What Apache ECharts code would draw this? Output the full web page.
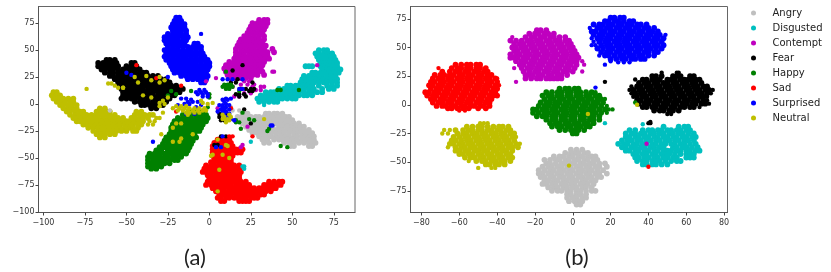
<!DOCTYPE html>
<html><head><meta charset="utf-8">
<style>html,body{margin:0;padding:0;background:#fff}#c{width:831px;height:272px}canvas{filter:blur(.45px)}</style>
<script src="https://cdn.jsdelivr.net/npm/echarts@6/dist/echarts.min.js"></script>
</head><body><div id="c"></div>
<script>
// every row is [y, x, x, x, ...]
const categories=['Angry','Disgusted','Contempt','Fear','Happy','Sad','Surprised','Neutral'];
const xTicksA=[-100,-75,-50,-25,0,25,50,75];
const yTicksA=[-100,-75,-50,-25,0,25,50,75];
const xTicksB=[-80,-60,-40,-20,0,20,40,60,80];
const yTicksB=[-75,-50,-25,0,25,50,75];

const aAngry=[
[-9,20,23,34,36,39,41,44],
[-12,17,20,22,25,28,30,33,35,38,41,43,46,48],
[-15,19,21,24,27,29,32,34,37,39,42,45,47,50],
[-18,20,23,25,28,31,33,36,38,40,43,46,48,51,54],
[-21,22,24,27,29,32,34,38,42,44,47,50,52,55,57],
[-24,24,27,30,33,36,39,41,44,47,49,52,55,57,60],
[-27,26,29,32,35,37,40,43,45,48,51,53,56,59,62],
[-30,30,33,35,37,40,43,46,48,51,53,56,58,61,63],
[-33,32,35,39,42,44,47,50,53,56,59,61,63],
[-36,33,36,45,48,51,54,57,60,62,64],
[-39,49,51,60,62]];
const aDisgusted=[
[50,66,69,71],
[47,64,66,69,72,74],
[44,65,67,70,73,75],
[41,66,68,71,73,76],
[38,67,70,72,75,77],
[35,58,60,62,67,69,72,74,77],
[32,68,71,73,76,79],
[29,62,64,67,70,72,75,78],
[26,57,60,62,65,68,71,73,76],
[23,56,59,62,64,67,69,72,75,77],
[20,55,58,60,63,66,69,71,74,77],
[17,47,49,52,54,57,59,62,66,71,74,77],
[14,42,45,47,50,52,55,57,60,63,68,72,75],
[11,34,37,39,41,44,47,49,52,54,57,60,62,65,68],
[8,31,34,36,39,41,44,46,49,52,54,57,59,62],
[5,29,32,34,37,39,42,44,47,50,52],
[2,30,33,36,39,41]];
const aContempt=[
[78,30,33,35],
[75,26,29,32,35],
[72,25,28,31,34],
[69,24,27,30,33],
[66,23,26,29,32],
[63,21,24,27,30,33],
[60,19,22,25,28,30,33],
[57,18,21,24,27,29,32],
[54,17,20,23,26,28,31,34],
[51,16,19,22,25,27,30,33,38],
[48,16,19,21,24,27,29,32,35,39],
[45,16,18,21,24,26,29,32,35],
[42,15,17,20,23,26,28,31,34,36],
[39,12,15,18,20,23,26,29,31,33],
[36,10,13,16,19,21,24,27,29,32],
[33,9,12,15,17,20,23,26,28,31],
[30,10,13,15,18,21,24,26,29,32],
[27,11,14,17,20,23,26,29,33],
[24,13,16,19,22,25]];
const aFear=[
[41,-62,-60,-57],
[38,-67,-64,-62,-59,-56,-47,-45],
[35,-67,-65,-62,-60,-57,-55,-50,-47,-44],
[32,-65,-63,-60,-58,-55,-52,-50,-47,-45,-42],
[29,-63,-60,-58,-55,-53,-50,-48,-45,-42,-40,-38],
[26,-60,-58,-55,-52,-50,-47,-45,-42,-40,-37,-34,-31],
[23,-57,-54,-52,-49,-46,-44,-41,-39,-36,-34,-31,-29,-26],
[20,-55,-52,-50,-47,-44,-42,-39,-37,-34,-31,-29,-26,-24],
[17,-54,-52,-49,-47,-44,-41,-39,-36,-33,-31,-28,-26,-23,-20],
[14,-53,-50,-48,-45,-42,-40,-37,-35,-32,-29,-27,-24,-22,-19,-16],
[11,-52,-50,-47,-44,-42,-39,-37,-34,-31,-29,-26,-23,-20,-18],
[8,-52,-49,-47,-44,-41,-39,-36,-34,-31,-28,-26,-23,-21],
[5,-53,-50,-47,-45,-42,-40,-37,-34,-32,-29,-26,-24],
[2,-45,-42,-39,-37,-34,-31,-29,-26],
[-1,-41,-39,-36,-33,-31,-28],
[-4,-35,-32]];
const aHappy=[
[-7,-12,-9,-6,-3],
[-10,-16,-13,-11,-8,-5,-2],
[-13,-19,-16,-14,-11,-8,-6,-3,-1],
[-16,-21,-18,-15,-13,-10,-7,-5,-2],
[-19,-22,-19,-17,-14,-12,-9,-6,-4],
[-22,-23,-20,-18,-15,-13,-10,-7,-5],
[-25,-23,-21,-18,-16,-13,-11,-8,-6],
[-28,-24,-21,-19,-16,-14,-11,-9],
[-31,-26,-23,-21,-18,-16,-13,-10,-8],
[-34,-27,-24,-22,-19,-17,-14,-12,-10],
[-37,-28,-25,-23,-20,-18,-15,-13,-11],
[-40,-30,-27,-24,-22,-19,-17,-14,-12],
[-43,-32,-29,-25,-23,-20,-18,-15,-13],
[-46,-36,-33,-30,-27,-24,-21,-19,-16,-14],
[-49,-37,-35,-32,-30,-27,-25,-22,-20,-17],
[-52,-37,-34,-32,-29,-27,-24,-21,-19],
[-55,-37,-35,-32,-30,-27,-24],
[-58,-37,-34,-32,-29],
[-60,-35,-32]];
const aSad=[
[-33,5,7,10,12],
[-36,3,5,8,10,13],
[-39,2,5,7,10,12,14],
[-42,2,4,7,9,12,14,16,18,20],
[-45,2,5,7,10,12,15,17,19],
[-48,2,4,7,9,12,14],
[-51,3,5,8,10,13],
[-54,1,3,6,8,11,13],
[-57,-2,1,3,6,8,11,13,15,18],
[-60,-3,-1,2,4,7,9,12,14,16,18],
[-63,-4,-2,1,3,6,8,11,14,16,19],
[-66,-1,1,4,6,9,11,14,16,18],
[-69,0,3,5,8,10,13,15,18],
[-72,-1,2,4,7,9,12,14,17,19,22,36,39,42,44],
[-75,-2,1,3,6,8,11,13,16,18,21,24,33,35,38,41,43],
[-78,2,4,7,9,12,15,17,20,22,25,27,30,32,35,38,40],
[-81,4,7,9,12,14,17,19,22,24,27,29,32,34,37],
[-84,6,8,11,13,16,18,21,23,26,28,31,33],
[-87,5,7,10,12,15,17,20,22,25,27,29],
[-90,7,9,18,20,22,24]];
const aSurprised=[
[80,-20,-18],
[77,-21,-19,-17],
[74,-22,-20,-17,-15],
[71,-23,-20,-18,-15],
[68,-22,-19,-17,-14],
[65,-25,-22,-20,-17,-14],
[62,-27,-24,-21,-19,-16,-13],
[59,-27,-24,-22,-19,-16,-14],
[56,-26,-23,-20,-18,-15,-9,-7],
[53,-25,-22,-19,-16,-13,-10,-7,-5],
[50,-27,-24,-21,-19,-16,-13,-11,-8,-5],
[47,-26,-23,-20,-17,-15,-12,-9,-7,-4],
[44,-27,-25,-22,-19,-16,-14,-11,-8,-5,-3],
[41,-26,-23,-20,-18,-15,-12,-10,-7,-4,-1],
[38,-24,-21,-19,-16,-13,-10,-8,-5,-2,0],
[35,-23,-20,-18,-15,-12,-9,-7,-4,-1,0],
[32,-22,-19,-16,-14,-11,-8,-5,-3,-1],
[29,-21,-18,-15,-13,-10,-7,-4,-2],
[26,-17,-14,-11,-9,-6,-3,-1],
[23,-13,-10,-7,-4,-2],
[20,-5,-3]];
const aNeutral=[
[11,-94,-92],
[8,-95,-92,-90],
[5,-94,-91,-88,-85,-82],
[2,-92,-89,-87,-84,-82],
[-1,-90,-88,-85,-83,-80],
[-4,-88,-85,-83,-80,-66,-63],
[-7,-86,-84,-81,-78,-76,-68,-65,-62,-60,-44,-41],
[-10,-84,-81,-79,-76,-74,-71,-68,-66,-63,-60,-57,-45,-42,-39,-36,-34],
[-13,-82,-80,-77,-75,-72,-69,-67,-64,-61,-58,-55,-52,-47,-45,-42,-40,-37],
[-16,-80,-78,-75,-73,-70,-67,-65,-62,-59,-56,-53,-50,-48,-45,-43,-40],
[-19,-76,-74,-71,-68,-65,-63,-60,-57,-54,-51,-49,-46,-43,-41],
[-22,-73,-70,-67,-65,-62,-59,-56,-54,-51,-48,-46,-43],
[-25,-70,-67,-65,-62,-59,-56,-53,-50,-46,-44],
[-28,-68,-65,-63,-60,-57],
[-31,-66,-63]];

// lone points of panel (a)
const aAngryLone=[[-3,13],[-6,14,18,-60]];
const aDisgustedLone=[[-1,33],[-35,25],[-58,20,21],[-60,21]];
const aContemptLone=[[30,38,39],[24,4],[21,21,24,-2],[18,19,23,27],[16,14,26,31,33],[13,28,31],[10,21,25],[7,15,18],[36,65],[-4,5],[-10,8],[-21,23],[-38,20],[-40,19]];
const aFearLone=[[36,20],[31,14],[23,17],[20,13,16,26],[14,19,22,25,27],[12,24,26],[9,16,18,21],[7,18,22],[-5,21],[-9,6,8,10],[-12,6,9,11],[-15,7,9],[-18,25],[-30,7,10],[-38,3,5]];
const aHappyLone=[[30,10],[18,9,11,13],[16,8,10,12,14],[14,10,12],[12,-11,-23,18],[9,0,-20],[8,-25],[6,0],[13,41,43,54],[-3,-1],[-8,20],[-15,16,27],[-17,16,18],[-14,24],[-23,19,36],[-25,35],[-39,43],[-40,47]];
const aSadLone=[[36,-44],[24,-32],[17,-17],[-7,-20],[-30,26,12,14],[-4,13]];
const aSurprisedLone=[[65,-5],[29,-50],[27,-47],[25,-25],[23,8,11,14,20],[14,18,20],[13,-6,-3],[11,-8,-5,-2],[9,-7,-4,-1],[7,-4,-1],[5,-17,-14,10,13],[4,-11,8,11],[2,-13,-10,-7,9],[0,-15,-12,10],[-1,-19,-5,6,8,12],[-3,-8,8,10],[-5,7,9,12],[-7,5,8,10],[-9,-14,-9,9,12],[-12,11],[-14,13],[-15,15],[-20,37,38],[-35,-34],[-40,4,7],[-30,8]];
const aNeutralLone=[[19,-61,-59],[17,-57],[15,-55,-52],[14,-74],[26,-38],[25,-45,-30],[22,-35,-27],[20,-43,-30],[15,-52],[8,-40],[6,-35,-25],[3,-28,-5],[1,-30,2,-4],[0,-27,-1],
[-2,-20,-17,-14,-30],[-4,-22,-18,-15,-12,-9,-6,-3],[-6,-19,-16,-13,-10,-7,-4,-2],[-8,-28,-14,-12,-9,-6],[-10,-13,12,8],[-13,-32,-30],[-16,-36,-33],[-19,-37,-34],
[-12,9,13],[-14,33,8,11],[-15,12,10],[-17,10],[-18,-20,-17],[-22,-22],[-28,-29],[-28,-10],[-32,-17],[-35,-22,-18],
[-33,5],[-38,10],[-39,11],[-47,2,8],[-48,1],[-50,12],[-61,6],[-81,5]];

const bAngry=[
[-39,-1,2,5],
[-42,-4,-1,1,3,6,8],
[-45,-10,-7,-5,-2,0,3,5,8,10,12],
[-48,-15,-12,-9,-7,-4,-2,1,3,6,8,11,13],
[-51,-14,-12,-9,-6,-4,-1,1,4,6,9,11,14,17],
[-54,-16,-13,-11,-8,-6,-3,-1,2,4,7,9,12,14,18],
[-57,-18,-15,-12,-10,-7,-5,-2,0,3,5,8,10,13,16],
[-60,-18,-16,-13,-11,-8,-6,-3,-1,2,4,7,9,12,14,18],
[-63,-17,-15,-12,-10,-7,-5,-2,0,3,5,8,10,13,15],
[-66,-15,-13,-10,-8,-5,-3,0,2,5,7,10,12],
[-69,-16,-14,-11,-9,-6,-4,-1,1,4,6,8,11],
[-72,-13,-10,-8,-5,-3,0,2,5,7,10],
[-75,-11,-8,-6,-3,-1,2,4,7,10,12],
[-78,-3,-1,2,4,7],
[-81,-3,0,2,5,7],
[-84,-2,1,3,5],
[-87,2,4]];
const bDisgusted=[
[-19,48,56,59,61],
[-22,30,33,37,40,42,45,47,50,52,55,57,60,62],
[-25,28,31,33,36,38,41,43,46,48,51,53,56,58,61,64],
[-28,28,30,33,35,38,40,43,45,48,50,53,55,58,60,63,65],
[-31,26,29,31,34,36,39,41,44,46,49,51,54,56,59,61,64],
[-34,24,27,29,32,34,37,39,42,44,47,49,52,54,57,59,62,65],
[-37,26,28,31,33,36,38,41,43,46,48,53,55,58,60,63,66],
[-40,28,30,33,35,38,40,43,45,48,50,52,55,57,60,62,65,67],
[-43,32,34,37,39,42,44,47,49,51,54,57,60,62,64],
[-46,33,35,38,40,43,45,48,50,53,55,60,62,64],
[-49,34,37,39,42,44,46,49,52,55,57],
[-52,37,39,42,44,47,50]];
const bContempt=[
[65,-19,-17,-14],
[62,-23,-20,-18,-15,-13,-10],
[59,-25,-22,-20,-17,-15,-12,-10,-7,-4],
[56,-33,-30,-27,-24,-22,-19,-17,-14,-12,-9,-7,-4,-2],
[53,-31,-28,-26,-23,-21,-18,-16,-13,-11,-8,-6,-3,-1],
[50,-32,-30,-27,-25,-22,-20,-17,-15,-12,-10,-7,-5,-2,0],
[47,-31,-29,-26,-24,-21,-19,-16,-14,-11,-9,-6,-4,-1,1],
[44,-33,-30,-28,-25,-23,-20,-18,-15,-13,-10,-8,-5,-3,0,2],
[41,-33,-31,-29,-26,-24,-21,-19,-16,-14,-11,-9,-6,-4,-1,1,3],
[38,-30,-27,-25,-22,-20,-17,-15,-12,-10,-7,-5,-2,0,2],
[35,-28,-26,-23,-21,-18,-16,-13,-11,-8,-6,-3,-1,2],
[32,-27,-24,-22,-19,-17,-14,-12,-9,-7,-4,-2,1],
[29,-26,-23,-20,-18,-15,-13,-10,-8,-5,-3,0],
[26,-25,-23,-21,-18,-16,-13,-11,-8,-6,-3],
[23,-25,-22,-19,-17,-14,-12,-10,-8,-6]];
const bFear=[
[25,42,44,47,53,55,57,62,64],
[22,37,39,42,44,46,50,52,54,57,59,61,63,65,67],
[19,35,38,40,43,45,48,50,53,55,58,60,63,65,68],
[16,34,36,39,41,44,46,49,51,54,56,59,61,64,66,69,71],
[13,32,35,37,40,42,45,47,50,52,55,57,60,62,65,67,70,72],
[10,33,36,38,41,43,46,48,51,53,56,58,61,63,66,68,71],
[7,34,37,39,42,44,47,49,52,54,57,59,62,64,67,69],
[4,34,36,39,41,44,46,49,51,54,56,59,61,64,66,69],
[1,35,38,40,43,45,48,50,53,55,58,60,63,65,68,70],
[-2,37,39,42,44,47,49,52,54,57,59,62,64],
[-5,43,46,48,51,53,56]];
const bHappy=[
[14,-7,-4,-2,1,3],
[11,-14,-11,-8,-6,-3,-1,2,4,7,10],
[8,-16,-13,-11,-8,-6,-3,-1,2,4,7,9,12,14],
[5,-15,-12,-10,-7,-5,-2,0,3,5,8,10,13,15],
[2,-17,-14,-12,-9,-7,-4,-2,1,3,6,8,11,13,16],
[-1,-18,-15,-13,-10,-8,-5,-3,0,2,5,7,10,12,15],
[-4,-21,-19,-16,-14,-11,-9,-6,-4,-1,1,4,6,9,11,14,17],
[-7,-21,-18,-15,-13,-10,-8,-5,-3,0,2,5,7,10,12,15],
[-10,-19,-16,-14,-11,-9,-6,-4,-1,1,4,6,9,11,14],
[-13,-14,-11,-9,-6,-4,-1,1,4,6,9,11,14],
[-16,-12,-9,-7,-4,-2,1,3,6,8,11],
[-19,-11,-8,-6,-3,-1,2,4,7,9],
[-22,-7,-4,-1,1,3,6],
[-25,0,2]];
const bSad=[
[35,-62,-59,-56,-54,-51,-49],
[32,-64,-61,-59,-56,-54,-51,-49,-46],
[29,-69,-65,-62,-60,-57,-55,-52,-50,-47,-45],
[26,-73,-70,-68,-65,-63,-60,-58,-55,-53,-50,-48,-45,-43],
[23,-74,-71,-69,-66,-64,-61,-59,-56,-54,-51,-49,-46,-44,-41],
[20,-75,-73,-70,-68,-65,-63,-60,-58,-55,-53,-50,-48,-45,-43,-40],
[17,-76,-74,-71,-69,-66,-64,-61,-59,-56,-54,-51,-49,-46,-44,-41],
[14,-75,-72,-70,-67,-65,-62,-60,-57,-55,-52,-50,-47,-45,-42,-40],
[11,-78,-76,-73,-71,-68,-66,-63,-61,-58,-56,-53,-51,-48,-46,-43,-41],
[8,-77,-74,-72,-69,-67,-64,-62,-59,-57,-54,-52,-49,-47,-44,-42,-40],
[5,-75,-73,-70,-68,-65,-63,-60,-58,-55,-53,-50,-48,-45,-43],
[2,-74,-71,-69,-66,-64,-61,-59,-56,-54,-51,-49,-46,-44],
[-1,-72,-69,-67,-64,-62,-59,-57,-54,-52,-49,-47,-44],
[-3,-66,-64,-61,-58,-55,-50,-46]];
const bSurprised=[
[76,20,22,25,27],
[73,17,19,22,24,27,30,32],
[70,11,14,16,19,21,24,26,29,31,34,36,39],
[67,13,15,18,20,23,25,28,30,33,35,38,40,43],
[64,10,12,15,17,20,22,25,27,30,32,35,37,40,42,45],
[61,11,14,16,19,21,24,26,29,31,34,36,39,41,44,46],
[58,13,15,18,20,23,25,28,30,33,35,38,40,43,45,48],
[55,14,17,19,22,24,27,29,32,34,37,39,42,44,47],
[52,15,18,20,23,25,28,30,33,35,38,40,43,45,48],
[49,13,16,19,21,24,26,29,31,34,36,39,41,44,47],
[46,15,18,20,23,25,28,30,33,35,38,40,43,45],
[43,17,19,22,25,27,30,32,35,37,40,43],
[40,20,23,26,28,31,33,36,38]];
const bNeutral=[
[-19,-56,-53,-50,-48,-45,-42,-39,-37,-34],
[-22,-62,-58,-55,-53,-50,-48,-45,-43,-40,-38,-35,-33],
[-25,-61,-58,-56,-53,-51,-48,-46,-43,-41,-38,-36,-33,-31],
[-28,-63,-60,-57,-55,-52,-50,-47,-45,-42,-40,-37,-35,-32],
[-31,-64,-62,-59,-56,-54,-51,-49,-46,-44,-41,-39,-36,-34,-31],
[-34,-65,-63,-60,-58,-55,-53,-50,-48,-45,-43,-40,-38,-35,-33,-30],
[-37,-62,-59,-57,-54,-52,-49,-47,-44,-42,-39,-37,-34,-32,-29],
[-40,-62,-60,-57,-55,-52,-50,-47,-45,-42,-40,-37,-35,-32],
[-43,-60,-58,-55,-53,-50,-48,-45,-43,-40,-38,-35,-33],
[-46,-57,-54,-52,-49,-47,-44,-42,-39,-37,-34,-32],
[-49,-51,-48,-46,-43,-41,-38,-36,-33],
[-52,-46,-44,-41,-39,-36]];

// lone points of panel (b)
const bAngryLone=[[-87,4]];
const bDisgustedLone=[[-16,17],[-17,37]];
const bContemptLone=[[59,-32],[38,5],[35,6],[32,-31],[29,5],[20,-30],[-34,39]];
const bFearLone=[[28,47,55,56],[22,33],[16,31],[13,30,74],[10,31,73],[7,32,71],[4,71],[1,72],[-2,67],[-8,50,52],[20,17],[-16,40,41],[-15,41]];
const bHappyLone=[[11,12],[5,17],[2,33],[-1,18],[-4,19,21],[-7,18]];
const bSadLone=[[32,-71],[23,-40],[17,-39],[-5,-60,-57],[-54,40]];
const bSurprisedLone=[[67,9],[61,49],[58,10],[55,11],[52,10,12],[43,14],[37,24,27,30],[35,17],[38,20],[15,12]];
const bNeutralLone=[[-16,-49,-47,-45],[-22,-68,-65],[-25,-69,-66],[-28,-30],[-34,-28],[-37,-66],[-49,-55],[-55,-50,-43,-41],[0,34],[-8,8],[-53,-2]];

const colors=['#bfbfbf','#00bfbf','#bf00bf','#000000','#008000','#ff0000','#0000ff','#bfbf00'];
const rowsA=[aAngry,aDisgusted,aContempt,aFear,aHappy,aSad,aSurprised,aNeutral];
const rowsB=[bAngry,bDisgusted,bContempt,bFear,bHappy,bSad,bSurprised,bNeutral];
const loneA=[aAngryLone,aDisgustedLone,aContemptLone,aFearLone,aHappyLone,aSadLone,aSurprisedLone,aNeutralLone];
const loneB=[bAngryLone,bDisgustedLone,bContemptLone,bFearLone,bHappyLone,bSadLone,bSurprisedLone,bNeutralLone];
const pts=r=>r.flatMap(([y,...xs])=>xs.map(x=>[x,y]));
const minus=v=>String(v).replace('-','\u2212');
const axis=(gridIndex,min,max,ticks,margin)=>({
  type:'value',gridIndex,min,max,splitLine:{show:false},
  axisLine:{show:true,onZero:false,lineStyle:{color:'#555',width:1}},
  axisTick:{show:true,length:3,customValues:ticks,lineStyle:{color:'#444',width:1}},
  axisLabel:{customValues:ticks,formatter:minus,margin,fontFamily:'DejaVu Sans',fontSize:8,color:'#333',hideOverlap:false}
});
const scatter=(name,i,data,ax,size)=>({name,type:'scatter',xAxisIndex:ax,yAxisIndex:ax,data,symbolSize:size,
  itemStyle:{color:colors[i],opacity:1},progressive:0,animation:false,silent:true});
const title=(text,left)=>({text,left,top:247,padding:0,textAlign:'center',
  textStyle:{fontFamily:'Lato',fontSize:22,fontWeight:'normal',color:'#222'}});
const chart=echarts.init(document.getElementById('c'),null,{renderer:'canvas'});
chart.setOption({
  animation:false,backgroundColor:'#fff',
  title:[title('(a)',195),title('(b)',577)],
  grid:[
    {left:38.5,top:6.5,width:316.5,height:206,show:true,borderColor:'#666',borderWidth:1,backgroundColor:'#fff'},
    {left:410.5,top:6.5,width:317,height:206,show:true,borderColor:'#666',borderWidth:1,backgroundColor:'#fff'}
  ],
  xAxis:[axis(0,-103,87.8,xTicksA,6),axis(1,-85.8,81.8,xTicksB,6)],
  yAxis:[axis(0,-100.6,90.4,yTicksA,4),axis(1,-93.9,85.7,yTicksB,4)],
  legend:{show:true,orient:'vertical',left:746,top:3,data:categories,icon:'circle',itemWidth:28,itemHeight:5,itemGap:5,
    selectedMode:false,textStyle:{fontFamily:'DejaVu Sans',fontSize:10,color:'#222'}},
  series:[
    ...categories.map((n,i)=>scatter(n,i,pts(rowsA[i]),0,5.8)),
    ...categories.map((n,i)=>scatter(n,i,pts(rowsB[i]),1,5.8)),
    ...categories.map((n,i)=>scatter(n,i,pts(loneA[i]),0,4.4)),
    ...categories.map((n,i)=>scatter(n,i,pts(loneB[i]),1,4.4))
  ]
});
</script></body></html>
